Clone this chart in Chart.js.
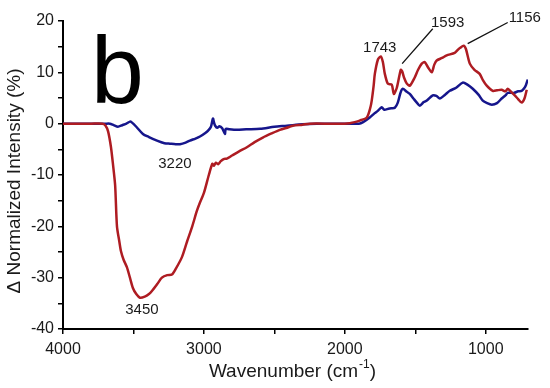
<!DOCTYPE html>
<html>
<head>
<meta charset="utf-8">
<script src="https://cdn.jsdelivr.net/npm/chart.js@4.4.0/dist/chart.umd.min.js"></script>
<style>
html,body{margin:0;padding:0;background:#fff;}
canvas{display:block;}
</style>
</head>
<body>
<canvas id="c" width="550" height="388"></canvas>
<script>
// ---- data ----
const redWn  = [4000,3900,3800,3720,3700,3680,3660,3645,3630,3617,3600,3589,3570,3546,3525,3504,3480,3454,3420,3390,3369,3330,3298,3260,3227,3200,3156,3120,3085,3050,3030,3000,2965,2940,2930,2915,2900,2880,2860,2837,2800,2750,2695,2640,2582,2520,2461,2400,2369,2300,2248,2100,2000,1965,1930,1894,1844,1820,1809,1795,1787,1765,1745,1730,1716,1695,1667,1652,1631,1603,1593,1580,1560,1539,1504,1480,1454,1433,1410,1383,1365,1348,1310,1277,1220,1190,1156,1140,1113,1080,1043,1020,993,950,920,887,860,844,820,794,770,745,725,709];
const redVal = [0,0,0,0,-0.3,-1.5,-4.5,-8,-12,-20,-23,-24.8,-26.5,-28,-30,-32,-33.2,-33.9,-33.7,-33.2,-32.6,-31.2,-30,-29.5,-29.4,-28.3,-26,-23,-20.2,-17,-15.5,-13.5,-10,-7.8,-8.2,-7.6,-7.9,-7.3,-6.9,-6.8,-6.2,-5.4,-4.6,-3.6,-2.7,-1.9,-1.2,-0.7,-0.4,-0.2,0,0,0,0.1,0.3,0.6,1.2,3,4.5,7.5,9.7,12.5,13.1,12,9.7,7.8,7.6,5.8,7,10.5,10.2,9,7.8,7.4,9,10.5,11.7,12,11,10,11.5,12.3,12.8,13.3,13.8,14.6,15.2,14.5,11.7,10.5,9.7,8.5,7.4,6.4,6.5,6.6,6.3,6.8,6.2,5.5,4.8,4.1,4.9,6.6];
const blueWn  = [4000,3800,3700,3667,3640,3610,3580,3550,3525,3510,3480,3433,3390,3333,3280,3241,3200,3170,3130,3099,3060,3028,2990,2972,2950,2936,2928,2920,2905,2890,2870,2851,2845,2820,2766,2700,2600,2500,2411,2300,2200,2000,1900,1870,1823,1790,1766,1738,1720,1690,1670,1645,1624,1605,1589,1560,1539,1510,1489,1468,1440,1418,1376,1350,1326,1290,1255,1210,1163,1130,1092,1050,1021,990,957,920,887,860,844,800,770,745,730,715,702];
const blueVal = [0,0,0,0,-0.3,-0.6,-0.3,0,0.4,0.2,-0.6,-2.0,-2.6,-3.3,-3.8,-3.9,-4.0,-4.0,-3.7,-3.3,-2.9,-2.5,-1.8,-1.4,-0.6,1.0,0.2,-0.4,-0.8,-0.5,-0.9,-2.0,-1.0,-1.1,-1.2,-1.1,-1.0,-0.6,-0.4,-0.1,0,0,0,0.3,1.2,2,2.5,3.2,2.7,2.9,3,3.1,4.1,6,6.8,6.2,5.8,4.8,4.1,3.5,4.2,4.5,5.5,5.4,4.9,5.6,6.4,7.0,8.0,7.6,6.8,5.6,4.5,4.0,3.7,4.0,4.9,5.5,6.0,6.0,6.3,6.4,6.8,7.5,8.6];

const xTicks = [4000,3500,3000,2500,2000,1500,1000];
const xTickLabels = ['4000','','3000','','2000','','1000'];
const yTicks = [20,15,10,5,0,-5,-10,-15,-20,-25,-30,-35,-40];
const yTickLabels = ['20','','10','','0','','-10','','-20','','-30','','-40'];

const annLabels = ['3220','3450','1743','1593','1156'];
const annX = [3206,3440,1752,1270,723];
const annY = [-7.8,-36.3,14.8,19.7,20.7];
// leader lines: [x1,y1,x2,y2] in data units
const leaderX1 = [1593,1128];
const leaderY1 = [11.7,15.6];
const leaderX2 = [1376,844];
const leaderY2 = [18.5,19.7];

const FONT = '"Liberation Sans", Arial, sans-serif';

const annPlugin = {
  id: 'ann',
  afterDraw(chart) {
    const ctx = chart.ctx;
    const xs = chart.scales.x, ys = chart.scales.y;
    const ca = chart.chartArea;
    ctx.save();
    // leader lines
    ctx.strokeStyle = '#111';
    ctx.lineWidth = 1.3;
    for (let i = 0; i < leaderX1.length; i++) {
      ctx.beginPath();
      ctx.moveTo(xs.getPixelForValue(leaderX1[i]), ys.getPixelForValue(leaderY1[i]));
      ctx.lineTo(xs.getPixelForValue(leaderX2[i]), ys.getPixelForValue(leaderY2[i]));
      ctx.stroke();
    }
    // peak labels
    ctx.fillStyle = '#1a1a1a';
    ctx.font = '15px ' + FONT;
    ctx.textAlign = 'center';
    ctx.textBaseline = 'middle';
    for (let i = 0; i < annLabels.length; i++) {
      ctx.fillText(annLabels[i], xs.getPixelForValue(annX[i]), ys.getPixelForValue(annY[i]));
    }
    // panel letter
    ctx.fillStyle = '#000';
    ctx.font = '95px ' + FONT;
    ctx.textAlign = 'left';
    ctx.textBaseline = 'alphabetic';
    ctx.fillText('b', ca.left + 28, ca.top + 82);
    // x axis title with superscript
    ctx.fillStyle = '#1a1a1a';
    ctx.font = '19px ' + FONT;
    const t1 = 'Wavenumber (cm', sup = '-1', t2 = ')';
    ctx.font = '19px ' + FONT; const w1 = ctx.measureText(t1).width;
    ctx.font = '12px ' + FONT; const ws = ctx.measureText(sup).width;
    ctx.font = '19px ' + FONT; const w2 = ctx.measureText(t2).width;
    const total = w1 + ws + w2 + 1;
    let x0 = (ca.left + ca.right) / 2 - total / 2 - 3;
    const yb = 377;
    ctx.textBaseline = 'alphabetic';
    ctx.fillText(t1, x0, yb);
    ctx.font = '12px ' + FONT;
    ctx.fillText(sup, x0 + w1 + 1, yb - 9);
    ctx.font = '19px ' + FONT;
    ctx.fillText(t2, x0 + w1 + ws + 1, yb);
    // y axis title
    ctx.save();
    ctx.translate(15, 181);
    ctx.rotate(-Math.PI / 2);
    ctx.textAlign = 'center';
    ctx.textBaseline = 'middle';
    ctx.font = '19px ' + FONT;
    ctx.fillText('\u0394 Normalized Intensity (%)', 0, 0);
    ctx.restore();
    ctx.restore();
  }
};

const redData = redWn.map((w, i) => ({x: w, y: redVal[i]}));
const blueData = blueWn.map((w, i) => ({x: w, y: blueVal[i]}));

new Chart(document.getElementById('c'), {
  type: 'line',
  data: {
    datasets: [
      {data: redData, borderColor: '#ae1c22', borderWidth: 2.5, pointRadius: 0, tension: 0.25, fill: false},
      {data: blueData, borderColor: '#16168c', borderWidth: 2.5, pointRadius: 0, tension: 0.25, fill: false}
    ]
  },
  options: {
    responsive: false,
    animation: false,
    devicePixelRatio: 1,
    layout: {padding: {top: 21, right: 22, left: 0, bottom: 0}},
    plugins: {legend: {display: false}, tooltip: {enabled: false}},
    scales: {
      x: {
        type: 'linear',
        reverse: true,
        min: 700,
        max: 4000,
        afterBuildTicks(s) { s.ticks = xTicks.map(v => ({value: v})); },
        afterFit(s) { s.height = 59; },
        ticks: {
          autoSkip: false,
          maxRotation: 0,
          padding: 6,
          color: '#1a1a1a',
          font: {family: FONT, size: 16},
          callback(v) { const i = xTicks.indexOf(v); return i >= 0 ? xTickLabels[i] : ''; }
        },
        grid: {drawOnChartArea: false, drawTicks: true, tickLength: 5, color: '#000', lineWidth: 1.5},
        border: {display: true, color: '#000', width: 2}
      },
      y: {
        type: 'linear',
        min: -40,
        max: 20,
        afterBuildTicks(s) { s.ticks = yTicks.map(v => ({value: v})); },
        afterFit(s) { s.width = 63; },
        ticks: {
          autoSkip: false,
          padding: 4,
          color: '#1a1a1a',
          font: {family: FONT, size: 16},
          callback(v) { const i = yTicks.indexOf(v); return i >= 0 ? yTickLabels[i] : ''; }
        },
        grid: {drawOnChartArea: false, drawTicks: true, tickLength: 5, color: '#000', lineWidth: 1.5},
        border: {display: true, color: '#000', width: 2}
      }
    }
  },
  plugins: [annPlugin]
});
</script>
</body>
</html>
